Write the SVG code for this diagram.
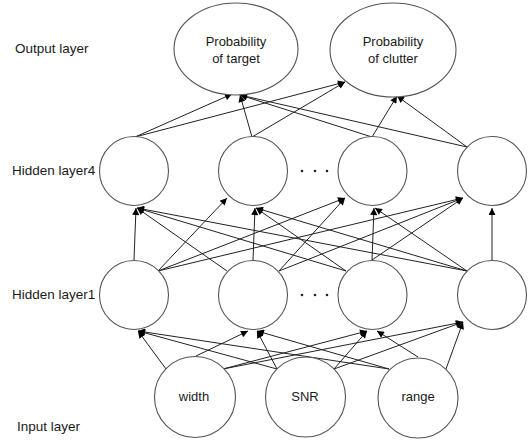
<svg xmlns="http://www.w3.org/2000/svg" width="532" height="441" viewBox="0 0 532 441">
  <defs>
    <marker id="arrow" viewBox="0 0 10 10" refX="10" refY="5" markerWidth="9" markerHeight="7" markerUnits="userSpaceOnUse" orient="auto">
      <path d="M0,0 L10,5 L0,10 z" fill="#000"/>
    </marker>
    <style>
      .node { fill: #fff; stroke: #555; stroke-width: 1.1; }
      .edge { stroke: #222; stroke-width: 1; fill: none; marker-end: url(#arrow); }
      .lbl { font-family: "Liberation Sans", Arial, sans-serif; font-size: 13.5px; fill: #1a1a1a; }
      .txt { font-family: "Liberation Sans", Arial, sans-serif; font-size: 13px; fill: #1a1a1a; text-anchor: middle; }
      .dot { fill: #222; }
    </style>
  </defs>
  <rect width="532" height="441" fill="#fff"/>

  <!-- layer captions -->
  <g id="captions">
    <text class="lbl" x="15" y="53">Output layer</text>
    <text class="lbl" x="12" y="175">Hidden layer4</text>
    <text class="lbl" x="12" y="299">Hidden layer1</text>
    <text class="lbl" x="17" y="431">Input layer</text>
  </g>

  <!-- connectors -->
  <g id="connectors">
    <!-- input -> hidden layer1 -->
    <line class="edge" x1="166" y1="369" x2="138" y2="331"/>
    <line class="edge" x1="196" y1="356" x2="248" y2="331"/>
    <line class="edge" x1="223" y1="369" x2="367" y2="331"/>
    <line class="edge" x1="223" y1="369" x2="463" y2="322"/>
    <line class="edge" x1="277" y1="369" x2="138" y2="331"/>
    <line class="edge" x1="277" y1="369" x2="257" y2="331"/>
    <line class="edge" x1="334" y1="369" x2="367" y2="331"/>
    <line class="edge" x1="334" y1="369" x2="463" y2="322"/>
    <line class="edge" x1="389" y1="369" x2="138" y2="331"/>
    <line class="edge" x1="389" y1="369" x2="257" y2="331"/>
    <line class="edge" x1="418" y1="357" x2="377" y2="331"/>
    <line class="edge" x1="446" y1="369" x2="463" y2="322"/>

    <!-- hidden layer1 -> hidden layer4 -->
    <line class="edge" x1="134" y1="260" x2="136" y2="208"/>
    <line class="edge" x1="158" y1="271" x2="227" y2="198"/>
    <line class="edge" x1="158" y1="271" x2="345" y2="198"/>
    <line class="edge" x1="158" y1="271" x2="463" y2="198"/>
    <line class="edge" x1="227" y1="271" x2="137" y2="208"/>
    <line class="edge" x1="253" y1="260" x2="255" y2="208"/>
    <line class="edge" x1="279" y1="271" x2="345" y2="198"/>
    <line class="edge" x1="279" y1="271" x2="463" y2="198"/>
    <line class="edge" x1="346" y1="271" x2="137" y2="208"/>
    <line class="edge" x1="346" y1="271" x2="256" y2="208"/>
    <line class="edge" x1="372" y1="260" x2="374" y2="208"/>
    <line class="edge" x1="372" y1="260" x2="463" y2="198"/>
    <line class="edge" x1="467" y1="271" x2="137" y2="208"/>
    <line class="edge" x1="467" y1="271" x2="256" y2="208"/>
    <line class="edge" x1="467" y1="271" x2="375" y2="208"/>
    <line class="edge" x1="492" y1="260" x2="492" y2="208"/>

    <!-- hidden layer4 -> output -->
    <line class="edge" x1="135" y1="137" x2="232" y2="94"/>
    <line class="edge" x1="135" y1="137" x2="345" y2="82"/>
    <line class="edge" x1="252" y1="137" x2="240" y2="95"/>
    <line class="edge" x1="252" y1="137" x2="345" y2="82"/>
    <line class="edge" x1="372" y1="137" x2="240" y2="95"/>
    <line class="edge" x1="372" y1="137" x2="397" y2="96"/>
    <line class="edge" x1="467" y1="147" x2="240" y2="95"/>
    <line class="edge" x1="467" y1="147" x2="397" y2="96"/>
  </g>

  <!-- output layer -->
  <g id="out-target">
    <ellipse class="node" cx="236" cy="49" rx="62" ry="46"/>
    <text class="txt" x="236" y="46">Probability</text>
    <text class="txt" x="236" y="63">of target</text>
  </g>
  <g id="out-clutter">
    <ellipse class="node" cx="393" cy="50" rx="63" ry="47"/>
    <text class="txt" x="393" y="46">Probability</text>
    <text class="txt" x="393" y="63">of clutter</text>
  </g>

  <!-- hidden layer4 -->
  <g id="h4-1"><circle class="node" cx="134" cy="171" r="34.5"/></g>
  <g id="h4-2"><circle class="node" cx="253" cy="171" r="34.5"/></g>
  <g id="h4-3"><circle class="node" cx="372.5" cy="171" r="34.5"/></g>
  <g id="h4-4"><circle class="node" cx="492" cy="171" r="34.5"/></g>
  <g id="h4-dots">
    <circle class="dot" cx="302" cy="171" r="1.3"/>
    <circle class="dot" cx="315" cy="171" r="1.3"/>
    <circle class="dot" cx="327" cy="171" r="1.3"/>
  </g>

  <!-- hidden layer1 -->
  <g id="h1-1"><circle class="node" cx="134" cy="295" r="34.5"/></g>
  <g id="h1-2"><circle class="node" cx="253" cy="295" r="34.5"/></g>
  <g id="h1-3"><circle class="node" cx="372.5" cy="295" r="34.5"/></g>
  <g id="h1-4"><circle class="node" cx="492" cy="295" r="34.5"/></g>
  <g id="h1-dots">
    <circle class="dot" cx="302" cy="295" r="1.3"/>
    <circle class="dot" cx="315" cy="295" r="1.3"/>
    <circle class="dot" cx="327" cy="295" r="1.3"/>
  </g>

  <!-- input layer -->
  <g id="in-width">
    <circle class="node" cx="195" cy="397" r="40.5"/>
    <text class="txt" x="194" y="401">width</text>
  </g>
  <g id="in-snr">
    <circle class="node" cx="305.5" cy="397" r="40"/>
    <text class="txt" x="305" y="401">SNR</text>
  </g>
  <g id="in-range">
    <circle class="node" cx="418" cy="398" r="40"/>
    <text class="txt" x="418" y="401">range</text>
  </g>
</svg>
